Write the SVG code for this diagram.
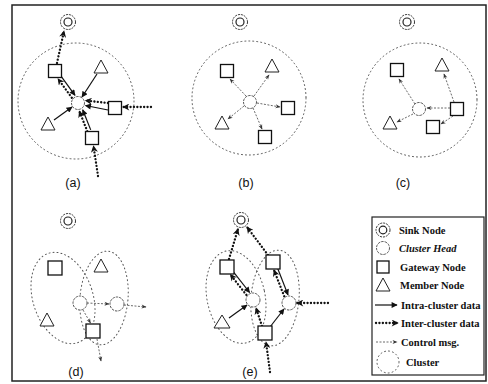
<svg xmlns="http://www.w3.org/2000/svg" width="488" height="384" viewBox="0 0 488 384">
<style>
.sink-o{fill:#fff;stroke:#333;stroke-width:1;stroke-dasharray:2 1}
.sink-i{fill:none;stroke:#222;stroke-width:1.2}
.ch{fill:#fff;stroke:#444;stroke-width:0.9;stroke-dasharray:2.5 1}
.gw{fill:#fff;stroke:#111;stroke-width:1.3}
.mem{fill:#fff;stroke:#222;stroke-width:1}
.clu{fill:none;stroke:#555;stroke-width:1;stroke-dasharray:1 3;stroke-linecap:round}
.intra{fill:none;stroke:#111;stroke-width:1.2;marker-end:url(#mIntra)}
.inter{fill:none;stroke:#111;stroke-width:2.3;stroke-dasharray:0.1 3.3;stroke-linecap:round;marker-end:url(#mInter)}
.ctrl{fill:none;stroke:#444;stroke-width:0.8;stroke-dasharray:2 1.5;marker-end:url(#mCtrl)}
.lbl{font-family:"Liberation Sans",Arial,sans-serif;font-size:12.5px;fill:#111;text-anchor:middle}
.leg{font-family:"Liberation Serif","Times New Roman",serif;font-size:10.5px;font-weight:bold;fill:#111}
</style>
<defs>
<marker id="mIntra" viewBox="0 0 10 10" refX="9" refY="5" markerWidth="7" markerHeight="6" markerUnits="userSpaceOnUse" orient="auto"><path d="M0,0 L10,5 L0,10 z" fill="#111"/></marker>
<marker id="mInter" viewBox="0 0 10 10" refX="9" refY="5" markerWidth="8" markerHeight="7" markerUnits="userSpaceOnUse" orient="auto"><path d="M0,0 L10,5 L0,10 L3,5 z" fill="#111"/></marker>
<marker id="mCtrl" viewBox="0 0 10 10" refX="9" refY="5" markerWidth="6" markerHeight="5" markerUnits="userSpaceOnUse" orient="auto"><path d="M0,1 L10,5 L0,9 L3,5 z" fill="#333"/></marker>
</defs>

<rect x="12" y="5" width="474" height="376" fill="#fff" stroke="#222" stroke-width="1.5"/>

<!-- Panel (a) -->
<g id="a-cluster"><circle class="clu" cx="76" cy="101" r="58"/></g>
<g id="connectors-a">
<line class="intra" x1="97" y1="74" x2="82" y2="97"/>
<line class="intra" x1="61.2" y1="76.3" x2="75" y2="95.3"/>
<line class="inter" x1="71.8" y1="97.7" x2="58" y2="78.7"/>
<line class="inter" x1="57" y1="63" x2="64" y2="31"/>
<line class="intra" x1="108" y1="110" x2="85.5" y2="105.5"/>
<line class="inter" x1="108" y1="103" x2="85.5" y2="100.5"/>
<line class="inter" x1="151" y1="107" x2="123" y2="107"/>
<line class="intra" x1="54" y1="120" x2="72" y2="107"/>
<line class="intra" x1="90.7" y1="129.9" x2="82.7" y2="109.7"/>
<line class="inter" x1="87.3" y1="131.3" x2="79.3" y2="111.1"/>
<line class="inter" x1="98" y1="176" x2="93.5" y2="146"/>
</g>
<g id="a-sink"><circle class="sink-o" cx="68" cy="22" r="7.5"/><circle class="sink-i" cx="68" cy="22" r="4"/></g>
<g id="a-ch"><circle class="ch" cx="78" cy="103" r="6.5"/></g>
<g id="a-gw1"><rect class="gw" x="48.5" y="64.5" width="13" height="13"/></g>
<g id="a-gw2"><rect class="gw" x="108.5" y="101.5" width="13" height="13"/></g>
<g id="a-gw3"><rect class="gw" x="85.5" y="131.5" width="13" height="13"/></g>
<g id="a-m1"><path class="mem" d="M101,60 L94,73 L108,73 z"/></g>
<g id="a-m2"><path class="mem" d="M48,117 L41,130 L55,130 z"/></g>
<text class="lbl" x="73" y="187">(a)</text>

<!-- Panel (b) -->
<g id="b-cluster"><circle class="clu" cx="249" cy="98" r="57"/></g>
<g id="connectors-b">
<line class="ctrl" x1="246" y1="96" x2="230" y2="79"/>
<line class="ctrl" x1="254" y1="96" x2="269" y2="75"/>
<line class="ctrl" x1="257" y1="103" x2="280" y2="107"/>
<line class="ctrl" x1="244" y1="106" x2="228" y2="119"/>
<line class="ctrl" x1="253" y1="108" x2="262" y2="129"/>
</g>
<g id="b-sink"><circle class="sink-o" cx="240" cy="22" r="7.5"/><circle class="sink-i" cx="240" cy="22" r="4"/></g>
<g id="b-ch"><circle class="ch" cx="250" cy="102" r="6.5"/></g>
<g id="b-gw1"><rect class="gw" x="220.5" y="64.5" width="13" height="13"/></g>
<g id="b-gw2"><rect class="gw" x="281.5" y="101.5" width="13" height="13"/></g>
<g id="b-gw3"><rect class="gw" x="258.5" y="130.5" width="13" height="13"/></g>
<g id="b-m1"><path class="mem" d="M272,59 L265,72 L279,72 z"/></g>
<g id="b-m2"><path class="mem" d="M222,116 L215,129 L229,129 z"/></g>
<text class="lbl" x="246" y="187">(b)</text>

<!-- Panel (c) -->
<g id="c-cluster"><circle class="clu" cx="420" cy="100" r="57"/></g>
<g id="connectors-c">
<line class="ctrl" x1="415" y1="104" x2="399" y2="79"/>
<line class="ctrl" x1="413" y1="114" x2="397" y2="122"/>
<line class="ctrl" x1="450" y1="108" x2="427" y2="108"/>
<line class="ctrl" x1="454" y1="102" x2="444" y2="74"/>
<line class="ctrl" x1="453" y1="116" x2="441" y2="124"/>
</g>
<g id="c-sink"><circle class="sink-o" cx="407" cy="22" r="7.5"/><circle class="sink-i" cx="407" cy="22" r="4"/></g>
<g id="c-ch"><circle class="ch" cx="419" cy="109" r="6.5"/></g>
<g id="c-gw1"><rect class="gw" x="390.5" y="63.5" width="13" height="13"/></g>
<g id="c-gw2"><rect class="gw" x="450.5" y="102.5" width="13" height="13"/></g>
<g id="c-gw3"><rect class="gw" x="426.5" y="120.5" width="13" height="13"/></g>
<g id="c-m1"><path class="mem" d="M442,58 L435,71 L449,71 z"/></g>
<g id="c-m2"><path class="mem" d="M390,116 L383,129 L397,129 z"/></g>
<text class="lbl" x="403" y="187">(c)</text>

<!-- Panel (d) -->
<g id="d-cluster1"><ellipse class="clu" cx="63" cy="298" rx="30" ry="47" transform="rotate(-18 63 298)"/></g>
<g id="d-cluster2"><ellipse class="clu" cx="104" cy="298" rx="24" ry="47" transform="rotate(5 104 298)"/></g>
<g id="connectors-d">
<line class="ctrl" x1="87" y1="303" x2="109" y2="304"/>
<line class="ctrl" x1="124" y1="305" x2="146" y2="307"/>
<line class="ctrl" x1="83" y1="310" x2="90.5" y2="323"/>
<line class="ctrl" x1="97" y1="339" x2="101" y2="361"/>
</g>
<g id="d-sink"><circle class="sink-o" cx="68" cy="221" r="7.5"/><circle class="sink-i" cx="68" cy="221" r="4"/></g>
<g id="d-ch1"><circle class="ch" cx="80" cy="303" r="7"/></g>
<g id="d-ch2"><circle class="ch" cx="117" cy="304" r="7"/></g>
<g id="d-gw1"><rect class="gw" x="48" y="261" width="14" height="14"/></g>
<g id="d-gw2"><rect class="gw" x="86" y="324" width="14" height="14"/></g>
<g id="d-m1"><path class="mem" d="M101,259 L94,272 L108,272 z"/></g>
<g id="d-m2"><path class="mem" d="M47,313 L40,326 L54,326 z"/></g>
<text class="lbl" x="76" y="376">(d)</text>

<!-- Panel (e) -->
<g id="e-cluster1"><ellipse class="clu" cx="236" cy="297" rx="29" ry="47" transform="rotate(-12 236 297)"/></g>
<g id="e-cluster2"><ellipse class="clu" cx="275" cy="298" rx="24" ry="48" transform="rotate(5 275 298)"/></g>
<g id="connectors-e">
<line class="inter" x1="229" y1="259" x2="238" y2="229"/>
<line class="inter" x1="268" y1="255" x2="247" y2="227"/>
<line class="intra" x1="233.6" y1="272.1" x2="249.6" y2="292.5"/>
<line class="inter" x1="246.4" y1="294.9" x2="230.4" y2="274.5"/>
<line class="intra" x1="229" y1="318" x2="247" y2="305"/>
<line class="inter" x1="262" y1="326" x2="256" y2="308"/>
<line class="intra" x1="270" y1="327" x2="284" y2="309"/>
<line class="intra" x1="277.8" y1="268.7" x2="288" y2="294.9"/>
<line class="inter" x1="284.2" y1="296.3" x2="274" y2="270.1"/>
<line class="inter" x1="328" y1="303" x2="297" y2="303"/>
<line class="inter" x1="270" y1="372" x2="266" y2="342"/>
</g>
<g id="e-sink"><circle class="sink-o" cx="241" cy="220" r="7.5"/><circle class="sink-i" cx="241" cy="220" r="4"/></g>
<g id="e-ch1"><circle class="ch" cx="253" cy="300" r="7"/></g>
<g id="e-ch2"><circle class="ch" cx="289" cy="303" r="7"/></g>
<g id="e-gw1"><rect class="gw" x="220" y="260" width="14" height="14"/></g>
<g id="e-gw2"><rect class="gw" x="266" y="255" width="14" height="14"/></g>
<g id="e-gw3"><rect class="gw" x="258" y="326" width="14" height="14"/></g>
<g id="e-m1"><path class="mem" d="M222,315 L214,328 L230,328 z"/></g>
<text class="lbl" x="250" y="376">(e)</text>

<!-- Legend -->
<g id="legend">
<rect x="372" y="217" width="112" height="158" fill="#fff" stroke="#222" stroke-width="1.2"/>
<circle class="sink-o" cx="383" cy="230" r="7"/><circle class="sink-i" cx="383" cy="230" r="3.8"/>
<text class="leg" x="399" y="234">Sink Node</text>
<circle class="ch" cx="383" cy="248" r="6.5"/>
<text class="leg" x="399" y="252" font-style="italic" font-weight="normal">Cluster Head</text>
<rect class="gw" x="377" y="261" width="12" height="12"/>
<text class="leg" x="400" y="271">Gateway Node</text>
<path class="mem" d="M383,278 L376,291 L390,291 z"/>
<text class="leg" x="400" y="289">Member Node</text>
<line class="intra" x1="375" y1="305" x2="397" y2="305"/>
<text class="leg" x="401" y="309">Intra-cluster data</text>
<line class="inter" x1="376" y1="323" x2="398" y2="323"/>
<text class="leg" x="401" y="327">Inter-cluster data</text>
<line class="ctrl" x1="376" y1="342" x2="397" y2="342"/>
<text class="leg" x="401" y="346">Control msg.</text>
<circle class="clu" cx="388" cy="362" r="11"/>
<text class="leg" x="406" y="366">Cluster</text>
</g>
</svg>
